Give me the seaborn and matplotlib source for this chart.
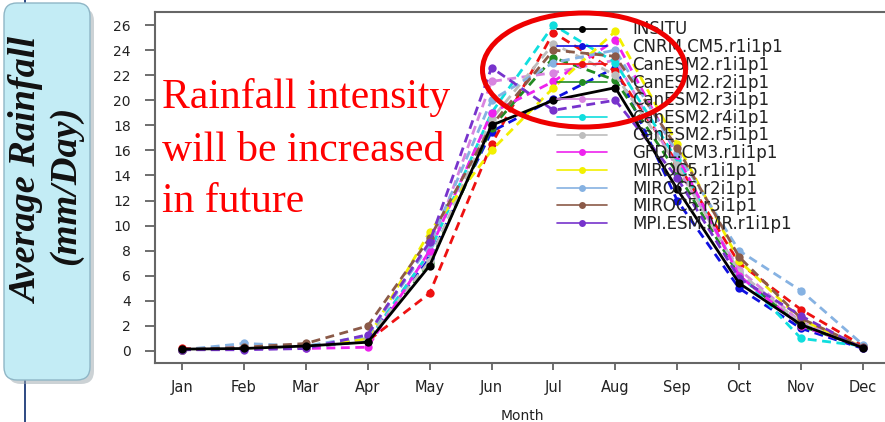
import numpy as np
import pandas as pd
import matplotlib
matplotlib.use("Agg")
import matplotlib.pyplot as plt
import seaborn as sns
from matplotlib.lines import Line2D
from matplotlib.patches import Ellipse, FancyBboxPatch

# Monthly mean rainfall (mm/day): observations and CMIP5 model runs
months = ["Jan", "Feb", "Mar", "Apr", "May", "Jun", "Jul", "Aug", "Sep", "Oct", "Nov", "Dec"]
insitu = [0.15, 0.2, 0.4, 0.7, 6.8, 18.0, 20.0, 21.0, 12.9, 5.4, 2.1, 0.25]
cnrm_cm5 = [0.1, 0.2, 0.3, 1.0, 7.4, 17.5, 20.1, 22.6, 12.0, 5.0, 1.8, 0.2]
canesm2_r1 = [0.2, 0.2, 0.3, 0.8, 4.6, 16.5, 25.4, 22.3, 15.0, 7.0, 3.3, 0.4]
canesm2_r2 = [0.1, 0.2, 0.3, 0.8, 7.0, 17.8, 23.4, 21.6, 14.2, 6.0, 2.0, 0.3]
canesm2_r3 = [0.1, 0.3, 0.3, 0.9, 7.8, 21.5, 22.2, 23.2, 14.6, 6.5, 2.3, 0.3]
canesm2_r4 = [0.1, 0.2, 0.3, 0.8, 7.9, 19.0, 26.0, 23.0, 15.2, 6.2, 1.0, 0.4]
canesm2_r5 = [0.1, 0.2, 0.3, 0.9, 7.2, 18.5, 24.5, 22.0, 14.8, 6.3, 2.2, 0.3]
gfdl_cm3 = [0.1, 0.2, 0.2, 0.3, 8.0, 19.0, 21.5, 24.8, 15.6, 6.0, 2.0, 0.3]
miroc5_r1 = [0.1, 0.2, 0.3, 1.0, 9.5, 16.0, 21.0, 25.5, 16.5, 7.2, 2.5, 0.3]
miroc5_r2 = [0.1, 0.6, 0.4, 1.2, 8.5, 20.0, 23.0, 24.0, 15.8, 8.0, 4.8, 0.5]
miroc5_r3 = [0.1, 0.3, 0.6, 2.0, 9.0, 18.0, 24.0, 23.5, 16.2, 7.5, 2.6, 0.3]
mpi_esm_mr = [0.1, 0.1, 0.2, 1.3, 8.7, 22.6, 19.2, 20.0, 13.8, 5.8, 2.8, 0.2]

series_names = ["INSITU", "CNRM.CM5.r1i1p1", "CanESM2.r1i1p1", "CanESM2.r2i1p1",
                "CanESM2.r3i1p1", "CanESM2.r4i1p1", "CanESM2.r5i1p1", "GFDL.CM3.r1i1p1",
                "MIROC5.r1i1p1", "MIROC5.r2i1p1", "MIROC5.r3i1p1", "MPI.ESM.MR.r1i1p1"]
series_values = [insitu, cnrm_cm5, canesm2_r1, canesm2_r2, canesm2_r3, canesm2_r4,
                 canesm2_r5, gfdl_cm3, miroc5_r1, miroc5_r2, miroc5_r3, mpi_esm_mr]
series_colors = ["#000000", "#1010e0", "#ee1111", "#228b22", "#d884e0", "#10dede",
                 "#bdbdbd", "#ee22ee", "#f2f000", "#86b2e2", "#8b5a48", "#7733cc"]

rows = []
for name, vals in zip(series_names, series_values):
    for i, v in enumerate(vals):
        rows.append({"model": name, "month": i, "rain": v})
df = pd.DataFrame(rows)

palette = dict(zip(series_names, series_colors))
dashes = {n: ("" if n == "INSITU" else (3.2, 2.0)) for n in series_names}
markers = {n: "o" for n in series_names}

W, H, DPI = 885, 422, 100
fig = plt.figure(figsize=(W / DPI, H / DPI), dpi=DPI)
sns.set_style("white")
plt.rcParams["font.family"] = ["DejaVu Sans"]

# axes placement in pixels (left spine, bottom spine, top frame line)
x_left, x_right, y_bottom, y_top = 155, 889, 363, 12
ax = fig.add_axes([x_left / W, 1 - y_bottom / H, (x_right - x_left) / W, (y_bottom - y_top) / H])

draw_order = series_names[1:] + ["INSITU"]
sns.lineplot(data=df, x="month", y="rain", hue="model", style="model",
             hue_order=draw_order, style_order=draw_order,
             palette=palette, dashes=dashes, markers=markers,
             markersize=6, markeredgewidth=0, linewidth=2.0,
             sort=False, legend=False, ax=ax)

# month spacing in pixels: Jan at 182, Dec at 863
px_per_month = (863 - 182) / 11
ax.set_xlim(-(182 - x_left) / px_per_month, (x_right - 182) / px_per_month)
px_per_unit = (351 - 25) / 26
ax.set_ylim(-(y_bottom - 351) / px_per_unit, (351 - y_top) / px_per_unit)

ax.set_xticks(range(12))
ax.set_xticklabels(months)
ax.set_yticks(range(0, 27, 2))
ax.tick_params(axis="y", direction="out", length=7.5, width=1.2, color="#555555",
               pad=10, labelsize=10, labelcolor="#222222", left=True)
ax.tick_params(axis="x", direction="out", length=5, width=1.2, color="#555555",
               pad=7, labelsize=10.5, labelcolor="#222222", bottom=True)
ax.set_xlabel("Month", fontsize=10, color="#222222", labelpad=10)
ax.set_ylabel("")

for side in ["left", "bottom", "top"]:
    ax.spines[side].set_visible(True)
    ax.spines[side].set_color("#666666")
    ax.spines[side].set_linewidth(1.5)
ax.spines["right"].set_visible(False)
ax.grid(False)

# legend with solid sample lines
handles = [Line2D([], [], color=c, lw=1.2, marker="o", markersize=5, markeredgewidth=0)
           for c in series_colors]
leg = ax.legend(handles, series_names, loc="upper left",
                bbox_to_anchor=(557 / W, 1 - 20.5 / H), bbox_transform=fig.transFigure,
                frameon=False, borderpad=0, borderaxespad=0, fontsize=12,
                handlelength=3.0, handletextpad=1.5, labelspacing=-0.02)
for t in leg.get_texts():
    t.set_color("#222222")

# inches-based transform for the annotation layer
tr = fig.dpi_scale_trans

# vertical navy rule behind the label box
fig.add_artist(Line2D([25 / DPI, 25 / DPI], [0, H / DPI], transform=tr,
                      color="#1c3a78", lw=1.3, zorder=1))

# rounded label box with soft shadow
shadow = FancyBboxPatch((8 / DPI, (H - 384) / DPI), 86 / DPI, 376 / DPI,
                        boxstyle="round,pad=0,rounding_size=0.13", transform=tr,
                        facecolor="#9aa6ad", edgecolor="none", alpha=0.5, zorder=2)
box = FancyBboxPatch((4 / DPI, (H - 380) / DPI), 86 / DPI, 377 / DPI,
                     boxstyle="round,pad=0,rounding_size=0.13", transform=tr,
                     facecolor="#c3ecf5", edgecolor="#8fb6c6", lw=1.0, zorder=3)
fig.add_artist(shadow)
fig.add_artist(box)
fig.text(27 / DPI, (H - 170) / DPI, "Average Rainfall", transform=tr, rotation=90,
         ha="center", va="center", fontsize=27.5, family="Liberation Serif",
         style="italic", weight="bold", color="#111111", zorder=4)
fig.text(66 / DPI, (H - 185) / DPI, "(mm/Day)", transform=tr, rotation=90,
         ha="center", va="center", fontsize=27.5, family="Liberation Serif",
         style="italic", weight="bold", color="#111111", zorder=4)

# red callout text
for line, base in zip(["Rainfall intensity", "will be increased", "in future"], [108, 161, 212]):
    fig.text(162 / DPI, (H - base) / DPI, line, transform=tr, ha="left", va="baseline",
             fontsize=30, family="Liberation Serif", color="#ff0000", zorder=5)

# ellipse around the monsoon peak
fig.add_artist(Ellipse((584 / DPI, (H - 70) / DPI), 203 / DPI, 114 / DPI, transform=tr,
                       fill=False, edgecolor="#ee0000", lw=3.6, zorder=6))

fig.savefig("out.png", dpi=DPI, facecolor="white")
